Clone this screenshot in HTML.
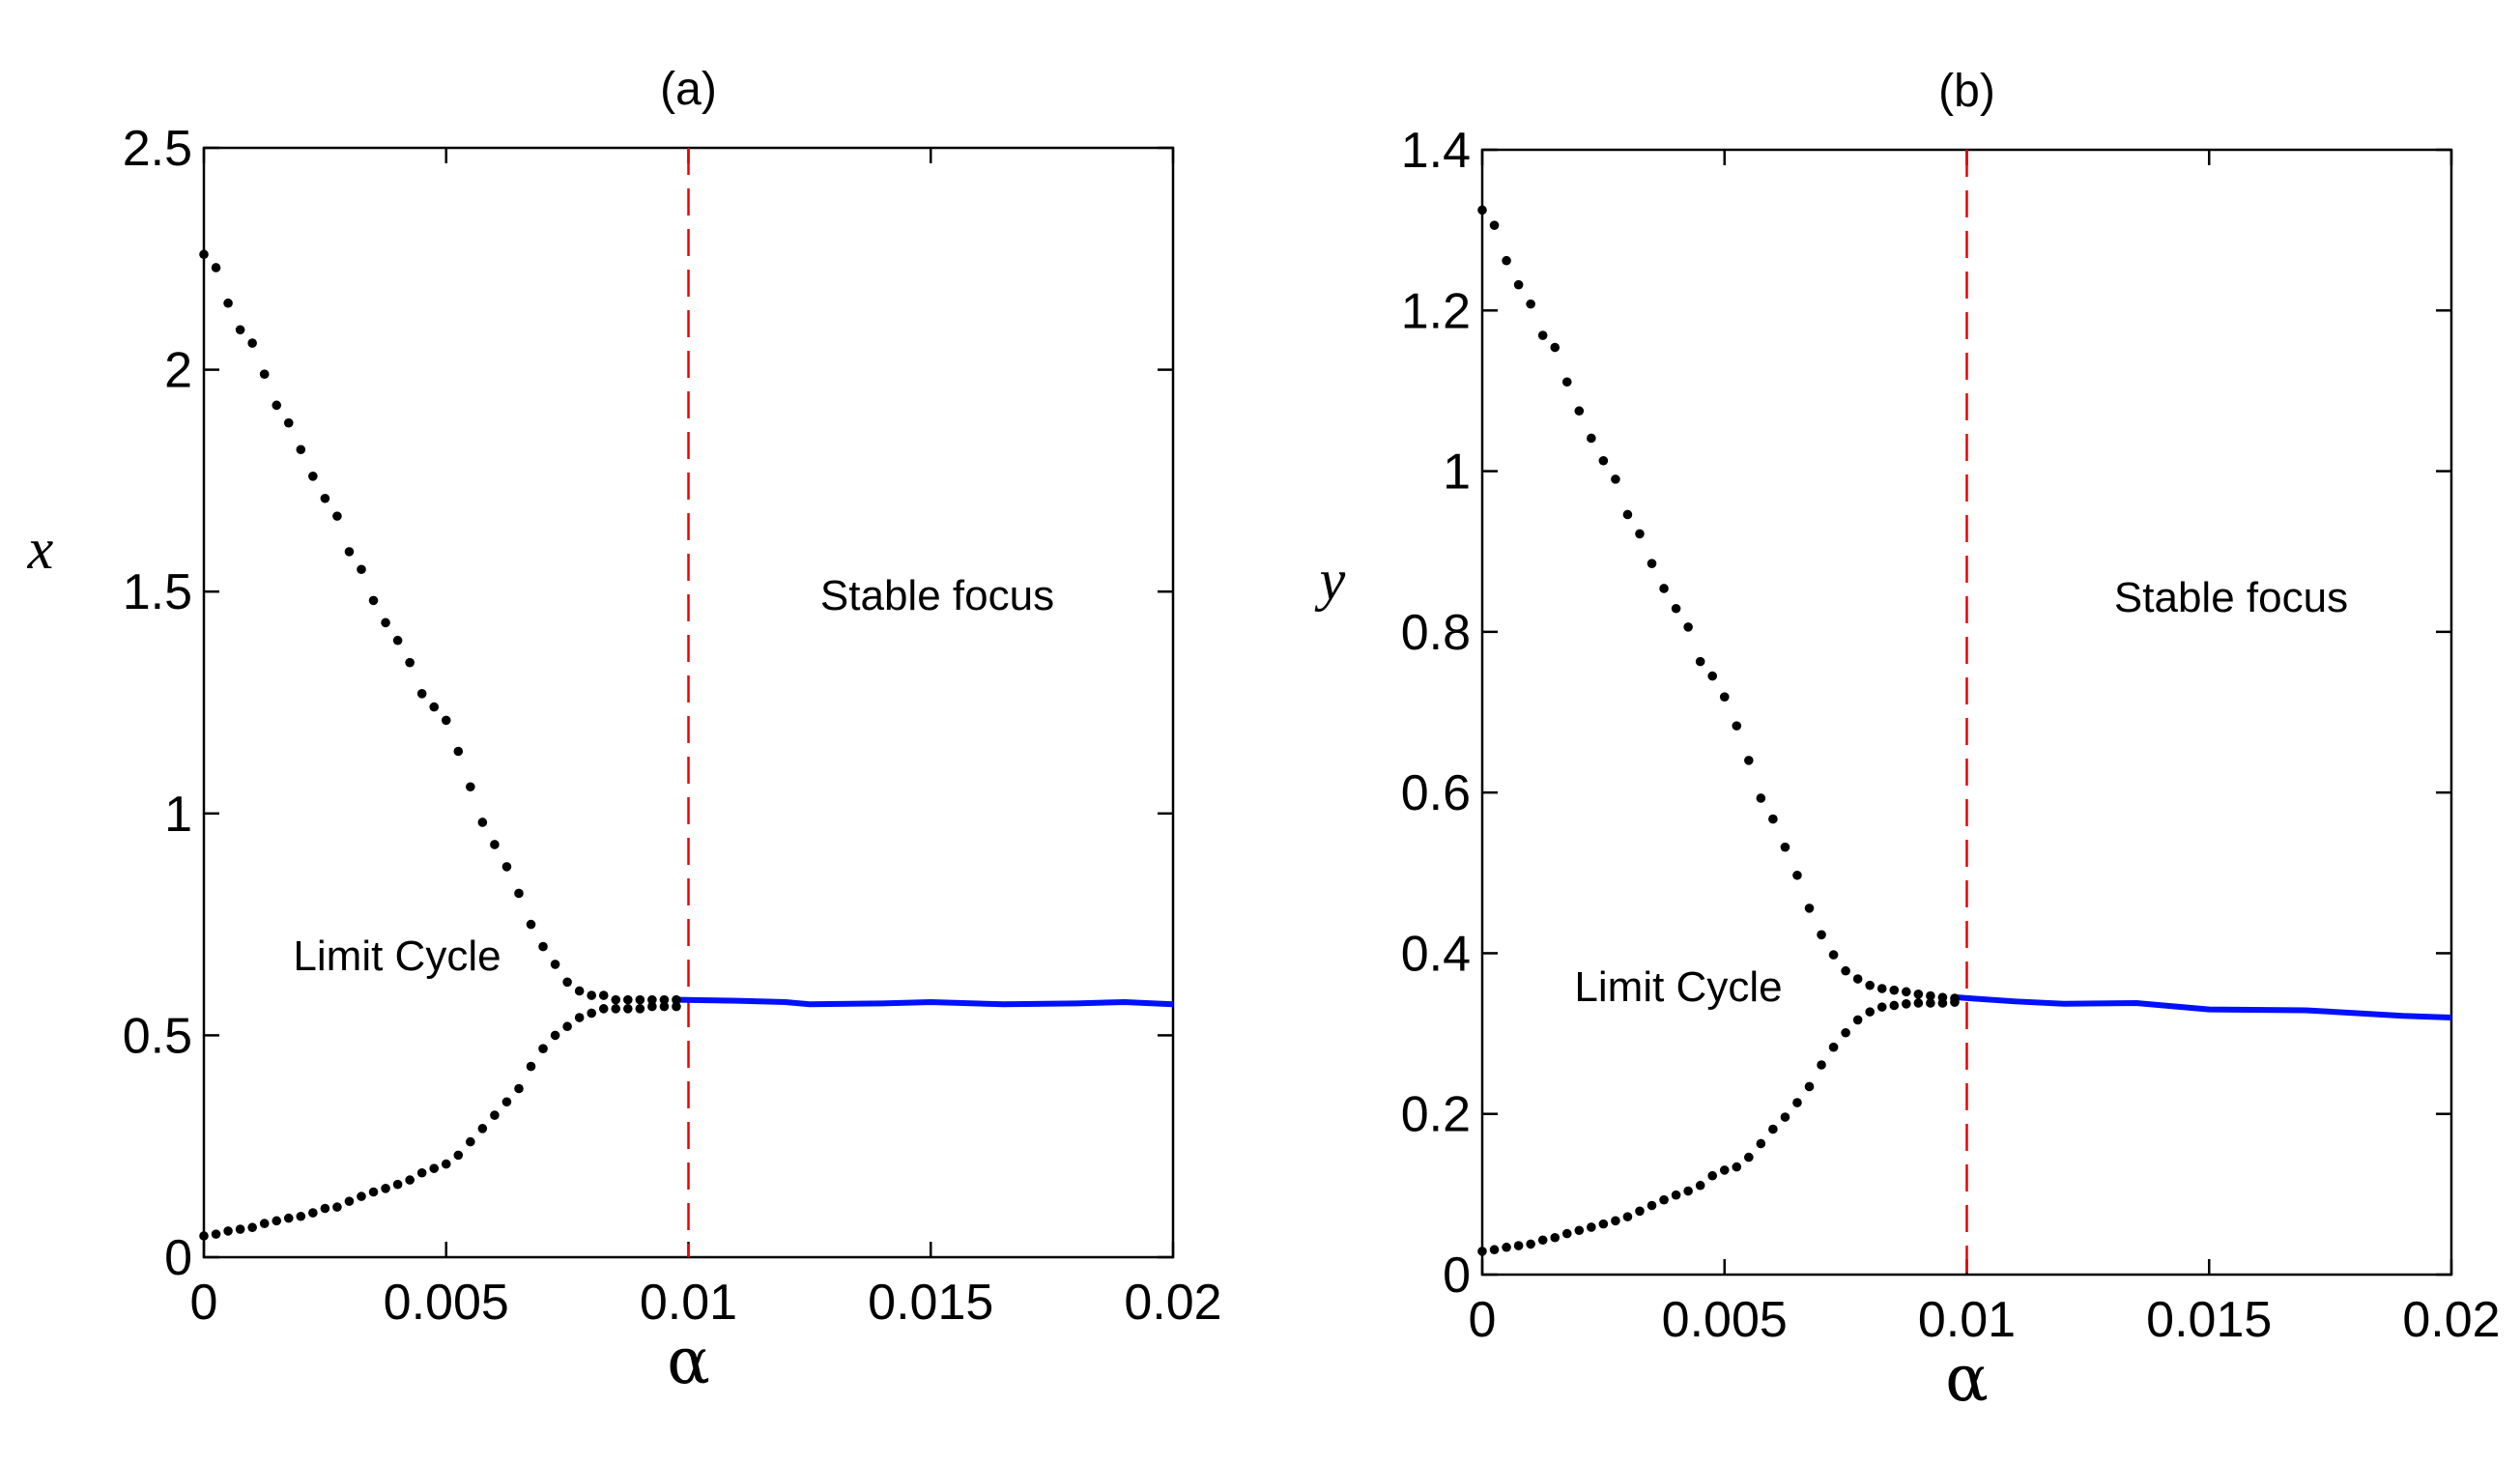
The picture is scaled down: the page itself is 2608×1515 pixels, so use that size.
<!DOCTYPE html>
<html><head><meta charset="utf-8"><style>
html,body{margin:0;padding:0;background:#fff;}
svg{display:block;}
text{font-family:"Liberation Sans",sans-serif;fill:#000;}
</style></head><body>
<svg id="fig" width="2608" height="1515" viewBox="0 0 2608 1515" xmlns="http://www.w3.org/2000/svg"></svg>
<script>
// ---- data ----
const alphaStep = 0.00025;
const xUpper = [2.26,2.23,2.15,2.09,2.06,1.99,1.92,1.88,1.82,1.76,1.71,1.67,1.59,1.55,1.48,1.43,1.39,1.34,1.27,1.24,1.21,1.14,1.06,0.98,0.93,0.88,0.82,0.75,0.70,0.66,0.62,0.60,0.59,0.59,0.58,0.58,0.58,0.58,0.58,0.58];
const xLower = [0.048,0.052,0.059,0.063,0.067,0.076,0.082,0.088,0.092,0.10,0.11,0.113,0.126,0.137,0.147,0.155,0.164,0.174,0.19,0.20,0.21,0.23,0.26,0.29,0.32,0.35,0.38,0.43,0.47,0.50,0.52,0.54,0.55,0.56,0.56,0.56,0.56,0.565,0.565,0.565];
const yUpper = [1.325,1.306,1.262,1.232,1.208,1.169,1.154,1.111,1.075,1.041,1.013,0.990,0.946,0.922,0.885,0.854,0.829,0.806,0.763,0.745,0.719,0.683,0.640,0.593,0.567,0.532,0.497,0.456,0.423,0.398,0.378,0.368,0.360,0.356,0.354,0.352,0.349,0.347,0.345,0.344];
const yLower = [0.029,0.031,0.034,0.036,0.038,0.043,0.046,0.051,0.055,0.059,0.063,0.067,0.072,0.079,0.086,0.093,0.099,0.104,0.111,0.123,0.130,0.134,0.146,0.163,0.181,0.196,0.214,0.234,0.261,0.283,0.301,0.317,0.327,0.333,0.335,0.337,0.338,0.338,0.338,0.339];
const stableAlphaA = [0.0098,0.011,0.012,0.0125,0.014,0.015,0.0165,0.018,0.019,0.02];
const stableXA = [0.58,0.578,0.575,0.57,0.572,0.575,0.57,0.572,0.575,0.57];
const stableAlphaB = [0.0098,0.011,0.012,0.0135,0.015,0.017,0.019,0.02];
const stableYB = [0.345,0.340,0.337,0.338,0.330,0.329,0.322,0.320];
const xTicks = [0,0.005,0.01,0.015,0.02];
const xTickLabels = ["0","0.005","0.01","0.015","0.02"];
const yTicksA = [0,0.5,1,1.5,2,2.5];
const yTickLabelsA = ["0","0.5","1","1.5","2","2.5"];
const yTicksB = [0,0.2,0.4,0.6,0.8,1,1.2,1.4];
const yTickLabelsB = ["0","0.2","0.4","0.6","0.8","1","1.2","1.4"];
const hopf = 0.01;

const NS="http://www.w3.org/2000/svg";
const svg=document.getElementById('fig');
function mk(tag,attrs,parent){const e=document.createElementNS(NS,tag);for(const k in attrs)e.setAttribute(k,attrs[k]);(parent||svg).appendChild(e);return e;}

function panel(p){
  const g=mk('g',{});
  
  
  const sx=v=>p.x0+(v-0)/(0.02)*(p.x1-p.x0);
  const sy=v=>p.y0-(v)/(p.ymax)*(p.y0-p.y1);
  const fr=mk('rect',{x:p.x0,y:p.y1,width:p.x1-p.x0,height:p.y0-p.y1,fill:'none',stroke:'#000','stroke-width':2.5},g);
  
  
  xTicks.forEach((t,i)=>{
    const X=sx(t);
    mk('line',{x1:X,x2:X,y1:p.y0,y2:p.y0-16,stroke:'#000','stroke-width':2.5},g);
    mk('line',{x1:X,x2:X,y1:p.y1,y2:p.y1+16,stroke:'#000','stroke-width':2.5},g);
    const tx=mk('text',{x:X,y:p.y0+64,'text-anchor':'middle','font-size':52},g);
    tx.textContent=xTickLabels[i];
    
    
  });
  p.yt.forEach((t,i)=>{
    const Y=sy(t);
    mk('line',{x1:p.x0,x2:p.x0+16,y1:Y,y2:Y,stroke:'#000','stroke-width':2.5},g);
    mk('line',{x1:p.x1,x2:p.x1-16,y1:Y,y2:Y,stroke:'#000','stroke-width':2.5},g);
    const tx=mk('text',{x:p.x0-12,y:Y+18,'text-anchor':'end','font-size':52},g);
    tx.textContent=p.ytl[i];
    
    
  });
  const hl=mk('line',{x1:sx(hopf),x2:sx(hopf),y1:p.y1,y2:p.y0,stroke:'#e00','stroke-width':2.5,'stroke-dasharray':'28,14'},g);
  
  
  const pts=p.sa.map((a,i)=>sx(a)+','+sy(p.sv[i])).join(' ');
  const sl=mk('polyline',{points:pts,fill:'none',stroke:'#0010ff','stroke-width':6},g);
  
  
  [p.up,p.lo].forEach((arr,k)=>{
    arr.forEach((v,i)=>{
      const c=mk('circle',{cx:sx(i*alphaStep),cy:sy(v),r:4.8,fill:'#000'},g);
      
      
    });
  });
  const t=mk('text',{x:(p.x0+p.x1)/2,y:p.y1-45,'text-anchor':'middle','font-size':48},g);
  t.textContent=p.title;
  
  
  const xl=mk('text',{x:(p.x0+p.x1)/2,y:p.y0+130,'text-anchor':'middle','font-size':66,style:'font-family:"DejaVu Serif","Liberation Serif",serif'},g);
  xl.textContent='α';
  
  
  const yl=mk('text',{x:p.ylx,y:p.yly,'text-anchor':'middle','font-size':60,'font-style':'italic',style:'font-family:"Liberation Serif",serif'},g);
  yl.textContent=p.ylab;
  
  
  const sf=mk('text',{x:p.sfx,y:p.sfy,'text-anchor':'middle','font-size':44},g);
  sf.textContent='Stable focus';
  
  
  const lc=mk('text',{x:p.lcx,y:p.lcy,'text-anchor':'middle','font-size':44},g);
  lc.textContent='Limit Cycle';
  
  
}
panel({name:'panel-a',x0:211,x1:1214,y0:1301,y1:153,ymax:2.5,yt:yTicksA,ytl:yTickLabelsA,up:xUpper,lo:xLower,sa:stableAlphaA,sv:stableXA,title:'(a)',ylab:'x',ylx:42,yly:588,sfx:970,sfy:631,lcx:411,lcy:1004});
panel({name:'panel-b',x0:1534,x1:2537,y0:1319,y1:155,ymax:1.4,yt:yTicksB,ytl:yTickLabelsB,up:yUpper,lo:yLower,sa:stableAlphaB,sv:stableYB,title:'(b)',ylab:'y',ylx:1379,yly:620,sfx:2309,sfy:633,lcx:1737,lcy:1036});
</script>
</body></html>
